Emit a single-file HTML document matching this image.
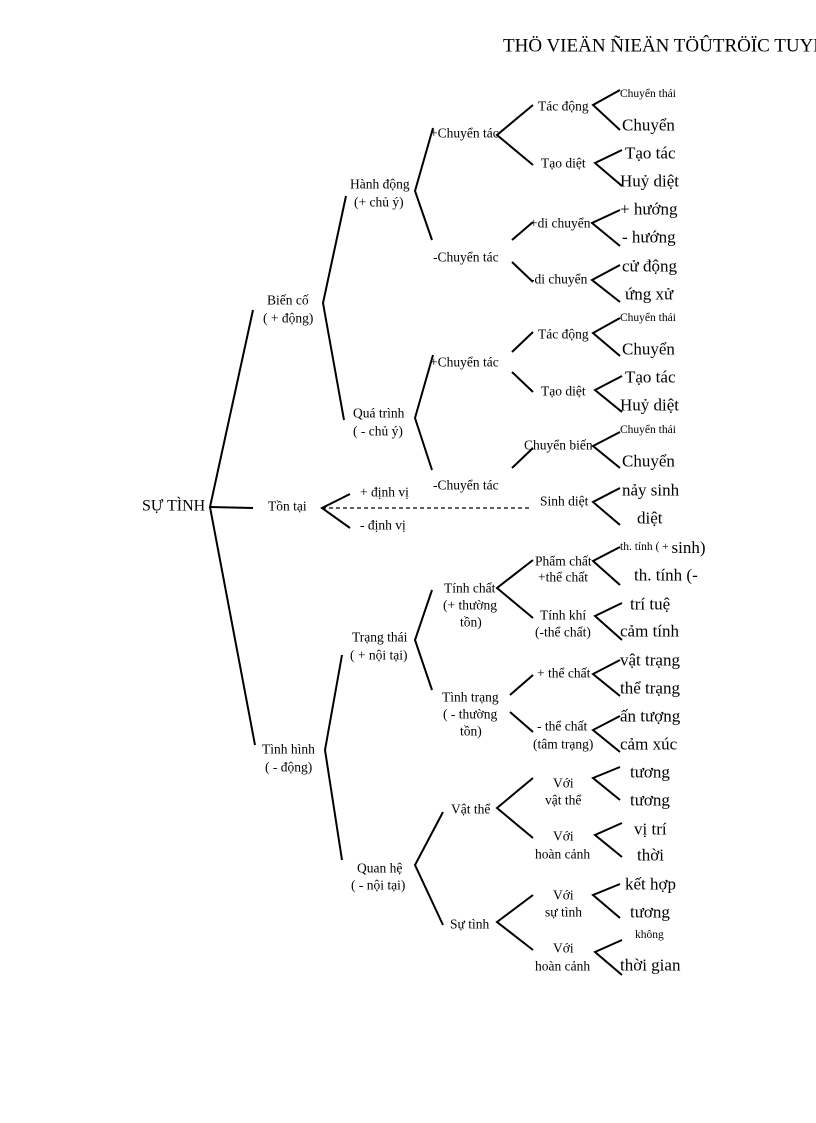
<!DOCTYPE html>
<html><head><meta charset="utf-8"><style>
html,body{margin:0;padding:0;background:#fff;}
svg{display:block;}
text{font-family:"Liberation Serif",serif;fill:#000;dominant-baseline:central;}
.s{font-size:13.5px;}
.b{font-size:17px;}
.xs{font-size:11.5px;}
</style></head><body>
<svg width="816" height="1123" viewBox="0 0 816 1123" xmlns="http://www.w3.org/2000/svg">
<text x="503" y="46" style="font-size:19px">THÖ VIEÄN ÑIEÄN TÖÛTRÖÏC TUYEÁN</text>
<g stroke="#000" stroke-width="2" fill="none">
<polyline points="253,310 210,507 255,745"/>
<line x1="210" y1="507" x2="253" y2="508"/>
<polyline points="346,196 323,303 344,420"/>
<polyline points="433,128 415,191 432,240"/>
<polyline points="533,105 497,135 533,165"/>
<polyline points="620,90 593,105 620,130"/>
<polyline points="622,150 595,163 622,186"/>
<line x1="512" y1="240" x2="533" y2="222"/>
<line x1="512" y1="262" x2="533" y2="282"/>
<polyline points="620,210 592,223 620,246"/>
<polyline points="620,265 592,280 620,302"/>
<polyline points="433,355 415,418 432,470"/>
<line x1="512" y1="352" x2="533" y2="332"/>
<line x1="512" y1="372" x2="533" y2="392"/>
<polyline points="620,318 593,333 620,356"/>
<polyline points="622,376 595,390 622,412"/>
<line x1="512" y1="468" x2="533" y2="448"/>
<polyline points="620,432 593,446 620,468"/>
<polyline points="620,488 593,502 620,525"/>
<polyline points="350,494 322,508 350,528"/>
<line x1="322" y1="508" x2="530" y2="508" stroke-dasharray="4,3" stroke-width="1.3"/>
<polyline points="342,655 325,750 342,860"/>
<polyline points="432,590 415,640 432,690"/>
<polyline points="533,560 497,588 533,618"/>
<polyline points="620,547 593,561 620,585"/>
<polyline points="622,603 595,616 622,640"/>
<line x1="510" y1="695" x2="533" y2="675"/>
<line x1="510" y1="712" x2="533" y2="732"/>
<polyline points="620,660 593,674 620,696"/>
<polyline points="620,716 593,730 620,752"/>
<polyline points="443,812 415,865 443,925"/>
<polyline points="533,778 497,808 533,838"/>
<polyline points="620,767 593,778 620,800"/>
<polyline points="622,823 595,835 622,857"/>
<polyline points="533,895 497,922 533,950"/>
<polyline points="620,884 593,895 620,918"/>
<polyline points="622,940 595,952 622,975"/>
</g>
<text x="142" y="506" style="font-size:16px">SỰ TÌNH</text>
<text class="s" x="267" y="300">Biến cố</text>
<text class="s" x="263" y="318">( + động)</text>
<text class="s" x="350" y="184">Hành động</text>
<text class="s" x="354" y="202">(+ chủ ý)</text>
<text class="s" x="430" y="133">+Chuyển tác</text>
<text class="s" x="538" y="106">Tác động</text>
<text class="xs" x="620" y="94">Chuyển thái</text>
<text class="b" x="622" y="125">Chuyển</text>
<text class="s" x="541" y="163">Tạo diệt</text>
<text class="b" x="625" y="153">Tạo tác</text>
<text class="b" x="620" y="181">Huỷ diệt</text>
<text class="s" x="433" y="257">-Chuyển tác</text>
<text class="s" x="530" y="223">+di chuyển</text>
<text class="s" x="530" y="279">-di chuyển</text>
<text class="b" x="620" y="209">+ hướng</text>
<text class="b" x="622" y="237">- hướng</text>
<text class="b" x="622" y="266">cử động</text>
<text class="b" x="625" y="294">ứng xử</text>
<text class="s" x="353" y="413">Quá trình</text>
<text class="s" x="353" y="431">( - chủ ý)</text>
<text class="s" x="430" y="362">+Chuyển tác</text>
<text class="s" x="538" y="334">Tác động</text>
<text class="s" x="541" y="391">Tạo diệt</text>
<text class="xs" x="620" y="318">Chuyển thái</text>
<text class="b" x="622" y="349">Chuyển</text>
<text class="b" x="625" y="377">Tạo tác</text>
<text class="b" x="620" y="405">Huỷ diệt</text>
<text class="s" x="433" y="485">-Chuyển tác</text>
<text class="s" x="524" y="445">Chuyển biến</text>
<text class="xs" x="620" y="430">Chuyển thái</text>
<text class="b" x="622" y="461">Chuyển</text>
<text class="s" x="540" y="501">Sinh diệt</text>
<text class="b" x="622" y="490">nảy sinh</text>
<text class="b" x="637" y="518">diệt</text>
<text class="s" x="268" y="506">Tồn tại</text>
<text class="s" x="360" y="492">+ định vị</text>
<text class="s" x="360" y="525">- định vị</text>
<text class="s" x="262" y="749">Tình hình</text>
<text class="s" x="265" y="767">( - động)</text>
<text class="s" x="352" y="637">Trạng thái</text>
<text class="s" x="350" y="655">( + nội tại)</text>
<text class="s" x="444" y="588">Tính chất</text>
<text class="s" x="443" y="605">(+ thường</text>
<text class="s" x="460" y="622">tồn)</text>
<text class="s" x="535" y="561">Phẩm chất</text>
<text class="s" x="538" y="577">+thể chất</text>
<text class="xs" x="620" y="547">th. tính ( + <tspan style="font-size:17px">sinh)</tspan></text>
<text class="b" x="634" y="575">th. tính (-</text>
<text class="s" x="540" y="615">Tính khí</text>
<text class="s" x="535" y="632">(-thể chất)</text>
<text class="b" x="630" y="604">trí tuệ</text>
<text class="b" x="620" y="631">cảm tính</text>
<text class="s" x="442" y="697">Tình trạng</text>
<text class="s" x="443" y="714">( - thường</text>
<text class="s" x="460" y="731">tồn)</text>
<text class="s" x="537" y="673">+ thể chất</text>
<text class="b" x="620" y="660">vật trạng</text>
<text class="b" x="620" y="688">thể trạng</text>
<text class="s" x="537" y="726">- thể chất</text>
<text class="s" x="533" y="744">(tâm trạng)</text>
<text class="b" x="620" y="716">ấn tượng</text>
<text class="b" x="620" y="744">cảm xúc</text>
<text class="s" x="357" y="868">Quan hệ</text>
<text class="s" x="351" y="885">( - nội tại)</text>
<text class="s" x="451" y="809">Vật thể</text>
<text class="s" x="553" y="783">Với</text>
<text class="s" x="545" y="800">vật thể</text>
<text class="b" x="630" y="772">tương</text>
<text class="b" x="630" y="800">tương</text>
<text class="s" x="553" y="836">Với</text>
<text class="s" x="535" y="854">hoàn cảnh</text>
<text class="b" x="634" y="829">vị trí</text>
<text class="b" x="637" y="855">thời</text>
<text class="s" x="450" y="924">Sự tình</text>
<text class="s" x="553" y="895">Với</text>
<text class="s" x="545" y="912">sự tình</text>
<text class="b" x="625" y="884">kết hợp</text>
<text class="b" x="630" y="912">tương</text>
<text class="s" x="553" y="948">Với</text>
<text class="s" x="535" y="966">hoàn cảnh</text>
<text class="xs" x="635" y="935">không</text>
<text class="b" x="620" y="965">thời gian</text>
</svg>
</body></html>
